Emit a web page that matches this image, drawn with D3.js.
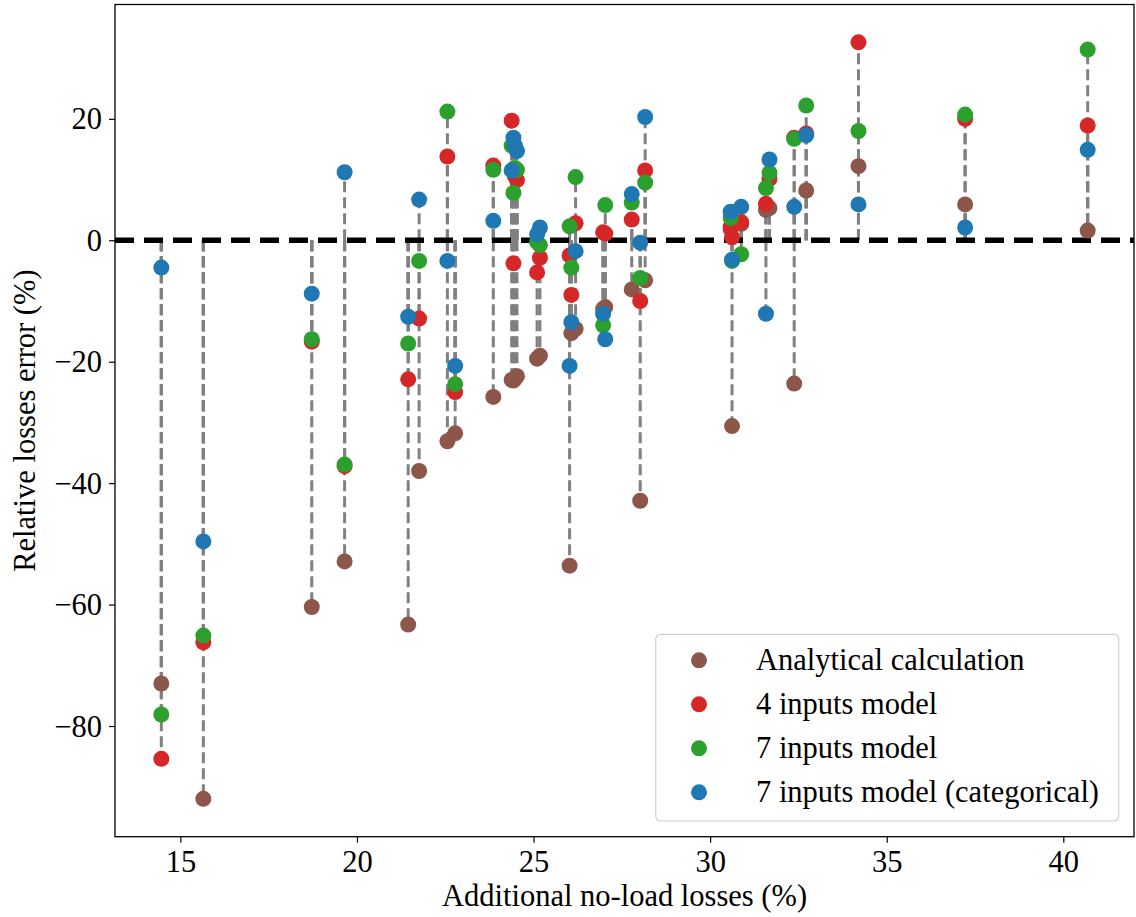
<!DOCTYPE html>
<html>
<head>
<meta charset="utf-8">
<script src="https://cdn.jsdelivr.net/npm/d3@7"></script>
<style>
  html, body { margin: 0; padding: 0; background: #fff; }
  svg { display: block; }
  text { font-family: "Liberation Serif", "DejaVu Serif", serif; fill: #000; }
</style>
</head>
<body>
<svg id="chart" width="1136" height="917"></svg>
<script>
// ---- Data ----
const noLoadLosses = [14.46, 15.65, 18.72, 19.65, 21.45, 21.76, 22.56, 22.78, 23.86,
  24.38, 24.43, 24.47, 24.53, 25.10, 25.18, 26.02, 26.07, 26.19, 26.97, 27.03,
  27.78, 28.02, 28.16, 30.58, 30.62, 30.88, 31.58, 31.68, 32.38, 32.72, 34.20, 37.22, 40.69];
const analytical = [-73.0, -92.0, -60.4, -52.9, -63.3, -38.0, -33.1, -31.8, -25.8,
  -23.0, -23.1, -22.8, -22.4, -19.5, -19.0, -53.6, -15.3, -14.6, -11.3, -11.0,
  -8.1, -42.9, -6.6, 1.8, -30.6, 2.7, 5.0, 5.3, -23.6, 8.2, 12.2, 5.9, 1.6];
const model4 = [-85.4, -66.2, -16.7, -37.2, -22.9, -12.9, 13.8, -25.0, 12.3,
  19.7, -3.8, 10.6, 9.9, -5.3, -2.9, -2.5, -9.0, 2.8, 1.3, 1.1,
  3.4, -10.0, 11.5, 2.2, 0.5, 3.0, 6.0, 10.1, 16.9, 17.6, 32.6, 20.0, 18.9];
const model7 = [-78.1, -65.1, -16.3, -36.95, -17.0, -3.4, 21.2, -23.7, 11.6,
  15.6, 7.8, 11.9, 11.6, -0.3, -0.8, 2.3, -4.5, 10.4, -14.0, 5.8,
  6.2, -6.2, 9.5, 3.7, -3.4, -2.3, 8.6, 11.1, 16.7, 22.2, 18.0, 20.7, 31.4];
const model7cat = [-4.5, -49.6, -8.8, 11.2, -12.6, 6.7, -3.4, -20.7, 3.2,
  11.5, 16.9, 15.6, 14.7, 1.0, 2.1, -20.7, -13.5, -1.8, -12.1, -16.3,
  7.6, -0.4, 20.3, 4.7, -3.2, 5.5, -12.1, 13.3, 5.5, 17.3, 5.9, 2.1, 14.9];
const seriesNames = ["Analytical calculation", "4 inputs model", "7 inputs model", "7 inputs model (categorical)"];
const seriesColors = ["#8c564b", "#d62728", "#2ca02c", "#1f77b4"];
const xTicks = [15, 20, 25, 30, 35, 40];
const yTicks = [-80, -60, -40, -20, 0, 20];
const xLabel = "Additional no-load losses (%)";
const yLabel = "Relative losses error (%)";

const seriesValues = [analytical, model4, model7, model7cat];

// ---- Layout ----
const svg = d3.select("#chart");
const L = 115, R = 1134, T = 4.5, B = 836.7;
const FS = 30.5;

function padded(vals) {
  const lo = d3.min(vals), hi = d3.max(vals), m = (hi - lo) * 0.05;
  return [lo - m, hi + m];
}
const allY = seriesValues.flat();
const x = d3.scaleLinear().domain(padded(noLoadLosses)).range([L, R]);
const y = d3.scaleLinear().domain(padded(allY)).range([B, T]);

const plot = svg.append("g");

// vertical dashed lines from zero to each value
seriesValues.forEach(vals => {
  plot.append("g").selectAll("line").data(vals).join("line")
    .attr("x1", (d, i) => x(noLoadLosses[i]))
    .attr("x2", (d, i) => x(noLoadLosses[i]))
    .attr("y1", y(0))
    .attr("y2", d => y(d))
    .attr("stroke", "#808080")
    .attr("stroke-width", 3)
    .attr("stroke-dasharray", "11,5");
});

// zero reference line
plot.append("line")
  .attr("x1", L).attr("x2", R)
  .attr("y1", y(0)).attr("y2", y(0))
  .attr("stroke", "#000")
  .attr("stroke-width", 5.5)
  .attr("stroke-dasharray", "19,10");

// points
seriesValues.forEach((vals, s) => {
  plot.append("g").selectAll("circle").data(vals).join("circle")
    .attr("cx", (d, i) => x(noLoadLosses[i]))
    .attr("cy", d => y(d))
    .attr("r", 8)
    .attr("fill", seriesColors[s]);
});

// axes
const xAxis = d3.axisBottom(x).tickValues(xTicks).tickSize(6).tickPadding(8).tickFormat(d3.format("d"));
const yAxis = d3.axisLeft(y).tickValues(yTicks).tickSize(6).tickPadding(7).tickFormat(d3.format("d"));

const gx = svg.append("g").attr("transform", `translate(0,${B})`).call(xAxis);
const gy = svg.append("g").attr("transform", `translate(${L},0)`).call(yAxis);
[gx, gy].forEach(g => {
  g.select(".domain").remove();
  g.selectAll(".tick line").attr("stroke", "#000").attr("stroke-width", 1.2);
  g.selectAll(".tick text").attr("font-size", FS).attr("font-family", "Liberation Serif, serif").attr("fill", "#000");
});
gy.selectAll(".tick text").attr("dy", "0.33em");
gx.selectAll(".tick text").attr("dy", "0.69em");

// frame
svg.append("rect")
  .attr("x", L).attr("y", T)
  .attr("width", R - L).attr("height", B - T)
  .attr("fill", "none").attr("stroke", "#000").attr("stroke-width", 1.3);

// axis labels
svg.append("text")
  .attr("x", (L + R) / 2).attr("y", 906)
  .attr("text-anchor", "middle")
  .attr("font-size", FS)
  .text(xLabel);
svg.append("text")
  .attr("transform", `translate(35,${(T + B) / 2}) rotate(-90)`)
  .attr("text-anchor", "middle")
  .attr("font-size", FS)
  .text(yLabel);

// legend
const lg = svg.append("g");
lg.append("rect")
  .attr("x", 655.7).attr("y", 634.3)
  .attr("width", 1118.7 - 655.7).attr("height", 821 - 634.3)
  .attr("rx", 5).attr("ry", 5)
  .attr("fill", "#fff").attr("fill-opacity", 0.8)
  .attr("stroke", "#d0d0d0").attr("stroke-width", 1.2);
seriesNames.forEach((name, i) => {
  const cy = 660.3 + i * 44;
  lg.append("circle").attr("cx", 699).attr("cy", cy).attr("r", 8).attr("fill", seriesColors[i]);
  lg.append("text").attr("x", 756).attr("y", cy + 9.5).attr("font-size", FS).text(name);
});
</script>
</body>
</html>
